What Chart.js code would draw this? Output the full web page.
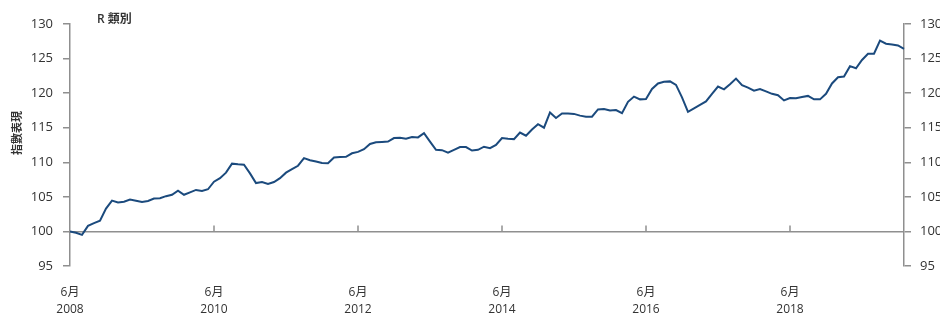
<!DOCTYPE html>
<html lang="zh-Hant">

<head>
    <meta charset="UTF-8">
    <title>指數表現</title>
    <style>
        html, body { margin: 0; padding: 0; background: #fff; }
        .box { width: 940px; height: 316px; position: relative; }
    </style>
</head>

<body>
    <div class="box">
        <canvas id="chart1"></canvas>
    </div>
</body>

</html>
<script src="https://cdn.jsdelivr.net/npm/chart.js"></script>
<script>
    // serie mensal, jun/2008 ate jan/2020
    var anoInicio = 2008;
    var mesInicio = 6;
    var valores = [
        100.0, 99.8, 99.5, 100.8, 101.2, 101.55, 103.3, 104.45, 104.2, 104.3,
        104.6, 104.45, 104.25, 104.4, 104.75, 104.8, 105.1, 105.3, 105.9, 105.3,
        105.65, 106.0, 105.85, 106.1, 107.2, 107.7, 108.5, 109.8, 109.7, 109.65,
        108.4, 107.0, 107.15, 106.85, 107.15, 107.7, 108.5, 109.0, 109.5, 110.6,
        110.3, 110.1, 109.9, 109.85, 110.7, 110.75, 110.8, 111.3, 111.5, 111.9,
        112.65, 112.9, 112.95, 113.0, 113.5, 113.55, 113.4, 113.65, 113.6, 114.2,
        113.0, 111.8, 111.75, 111.4, 111.8, 112.2, 112.2, 111.7, 111.8, 112.25,
        112.05, 112.5, 113.5, 113.4, 113.35, 114.3, 113.85, 114.75, 115.5, 115.0,
        117.2, 116.4, 117.05, 117.05, 117.0, 116.75, 116.6, 116.6, 117.65, 117.7,
        117.5, 117.55, 117.1, 118.75, 119.5, 119.1, 119.15, 120.6, 121.4, 121.65,
        121.7, 121.2, 119.4, 117.3, 117.8, 118.3, 118.8, 119.9, 120.95, 120.55,
        121.3, 122.1, 121.15, 120.8, 120.35, 120.6, 120.25, 119.9, 119.7, 118.95,
        119.3, 119.25, 119.45, 119.6, 119.1, 119.1, 119.9, 121.4, 122.3, 122.4,
        123.9, 123.6, 124.8, 125.7, 125.7, 127.6, 127.15, 127.05, 126.9, 126.4
    ];
    var rotulosEixoX = [
        ['6月', '2008'], ['6月', '2010'], ['6月', '2012'],
        ['6月', '2014'], ['6月', '2016'], ['6月', '2018']
    ];
    var passoRotulo = 24;
    var yMin = 95;
    var yMax = 130;
    var yPasso = 5;
    var linhaBase = 100;
    var tituloY = '指數表現';
    var legenda = 'R 類別';

    var labels = [];
    for (i = 0; i < valores.length; i++) {
        var m = mesInicio - 1 + i;
        labels.push(`${anoInicio + Math.floor(m / 12)}-${(m % 12) + 1}`)
    }

    var fonte = '"Open Sans", "Noto Sans CJK TC", sans-serif';
    var cinza = '#8f8f8f';
    Chart.defaults.font.family = fonte;
    Chart.defaults.color = '#333';

    // marquinhas no eixo 100 e textos soltos
    var extras = {
        id: 'extras',
        afterDatasetsDraw(chart) {
            var c = chart.ctx;
            var x = chart.scales.x;
            var y = chart.scales.y;
            var y100 = y.getPixelForValue(linhaBase);
            c.save();
            c.strokeStyle = cinza;
            c.lineWidth = 1.5;
            for (i = passoRotulo; i < valores.length; i += passoRotulo) {
                var px = x.getPixelForValue(i);
                c.beginPath();
                c.moveTo(px, y100);
                c.lineTo(px, y100 - 6);
                c.stroke();
            }
            c.fillStyle = '#333';
            c.font = '600 12px ' + fonte;
            c.textAlign = 'left';
            c.textBaseline = 'middle';
            c.fillText(legenda, chart.chartArea.left + 27, 20);
            c.translate(18, 133);
            c.rotate(-Math.PI / 2);
            c.textAlign = 'center';
            c.font = '600 11px ' + fonte;
            c.fillText(tituloY, 0, 0);
            c.restore();
        }
    };

    const ctx = document.getElementById('chart1');
    chart1 = new Chart(ctx, {
        type: 'line',
        data: {
            labels: labels,
            datasets: [{
                data: valores,
                borderColor: '#1b4a7d',
                borderWidth: 2,
                pointRadius: 0,
                tension: 0,
                yAxisID: 'y'
            }]
        },
        plugins: [extras],
        options: {
            responsive: true,
            maintainAspectRatio: false,
            animation: false,
            layout: { padding: { top: 24, left: 0, right: 0, bottom: 0 } },
            plugins: { legend: { display: false }, tooltip: { enabled: false } },
            scales: {
                x: {
                    offset: false,
                    border: { display: false },
                    grid: { display: false, drawTicks: false },
                    ticks: {
                        autoSkip: false,
                        maxRotation: 0,
                        padding: 18,
                        font: { size: 12, lineHeight: 1.4 },
                        callback: function (v, i) {
                            return i % passoRotulo == 0 ? rotulosEixoX[i / passoRotulo] : null;
                        }
                    },
                    afterFit: function (s) { s.height = 50; }
                },
                y: {
                    position: 'left',
                    min: yMin,
                    max: yMax,
                    border: { color: cinza, width: 1.5 },
                    grid: {
                        color: function (c) { return c.tick && c.tick.value == linhaBase ? cinza : 'rgba(0,0,0,0)'; },
                        lineWidth: 1.5,
                        tickColor: cinza,
                        tickLength: 7
                    },
                    ticks: { stepSize: yPasso, padding: 10, font: { size: 13 } },
                    afterFit: function (s) { s.width = 70; }
                },
                y2: {
                    position: 'right',
                    min: yMin,
                    max: yMax,
                    border: { color: cinza, width: 1.5 },
                    grid: { drawOnChartArea: false, tickColor: cinza, tickLength: 7, lineWidth: 1.5 },
                    ticks: { stepSize: yPasso, padding: 9, font: { size: 13 } },
                    afterFit: function (s) { s.width = 36; }
                }
            }
        }
    });
</script>
